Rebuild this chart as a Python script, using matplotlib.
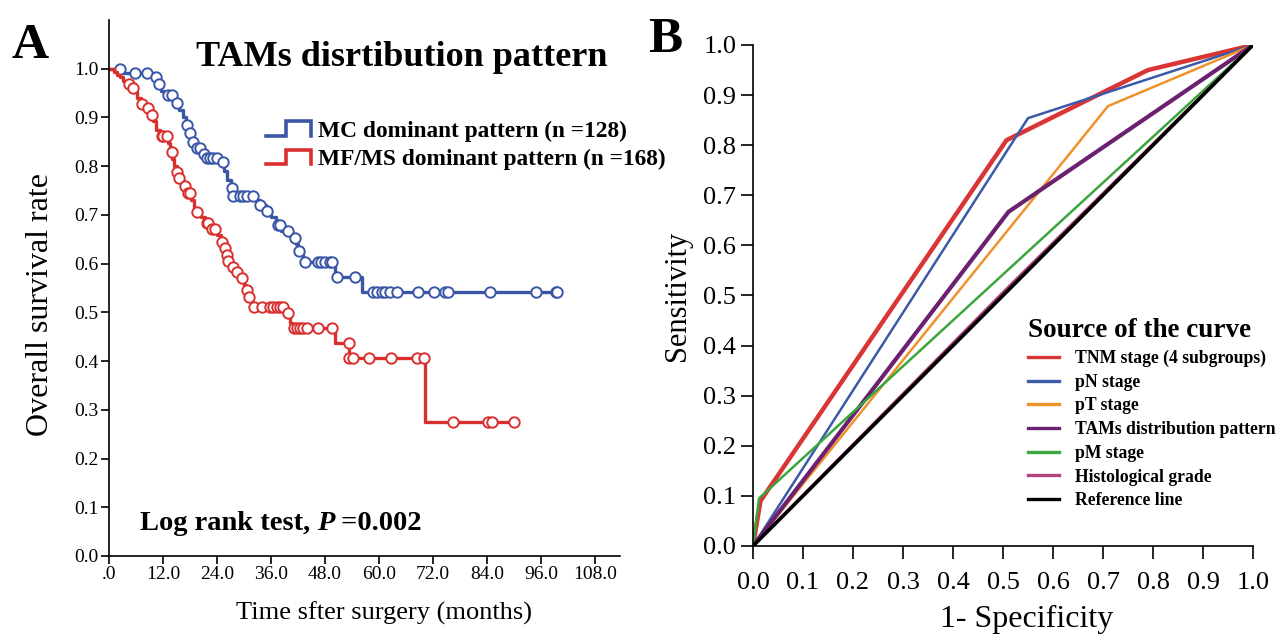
import numpy as np
import matplotlib
matplotlib.use('Agg')
import matplotlib.pyplot as plt
from matplotlib.legend_handler import HandlerBase
from matplotlib.lines import Line2D
from matplotlib.ticker import FormatStrFormatter

plt.rcParams['font.family'] = 'serif'
plt.rcParams['font.serif'] = ['Liberation Serif', 'DejaVu Serif']

# ---- Panel A : Kaplan-Meier ----
# step knots: time (months) where survival drops, survival after the drop
mc_times = [0, 3.0, 10.0, 10.8, 11.5, 12.3, 14.5, 15.5, 16.5, 17.0, 17.8, 18.5, 19.2,
            20.5, 21.2, 24.5, 25.5, 26.2, 27.0, 27.5, 32.5, 33.5, 34.8, 36.0, 37.0,
            38.2, 40.5, 41.5, 42.0, 43.2, 50.2, 56.1]
mc_surv = [1.0, 0.992, 0.984, 0.968, 0.955, 0.946, 0.93, 0.915, 0.90, 0.885, 0.868, 0.85,
           0.838, 0.825, 0.816, 0.808, 0.79, 0.772, 0.755, 0.738, 0.73, 0.72, 0.708,
           0.695, 0.68, 0.666, 0.652, 0.64, 0.625, 0.603, 0.573, 0.542]
mc_cens = [2.4, 5.8, 8.4, 10.5, 11.0, 13.2, 13.9, 15.0, 17.3, 18.0, 18.7, 19.5, 20.2,
           21.0, 21.7, 22.4, 23.1, 23.9, 25.4, 27.3, 27.6, 29.1, 29.8, 30.6, 32.0,
           33.6, 35.0, 37.6, 38.0, 39.8, 41.3, 42.1, 43.6, 46.4, 47.1, 48.0, 49.0,
           49.5, 50.6, 54.7, 58.7, 59.5, 60.6, 61.3, 62.4, 63.9, 68.7, 72.1, 74.7,
           75.4, 84.7, 94.9, 99.3, 99.6]

mf_times = [0, 1.0, 1.8, 2.5, 3.2, 4.0, 5.0, 5.5, 6.2, 7.0, 8.2, 9.2, 9.8, 10.5, 11.3,
            13.0, 13.5, 14.0, 14.5, 15.0, 15.5, 16.5, 17.3, 18.2, 18.8, 19.5, 20.5,
            21.3, 22.5, 24.0, 24.8, 25.3, 26.0, 26.5, 27.2, 28.0, 29.0, 30.0, 30.5,
            31.0, 31.6, 32.0, 39.5, 40.2, 40.6, 50.2, 53.3, 70.2]
mf_surv = [1.0, 0.994, 0.988, 0.982, 0.975, 0.969, 0.96, 0.953, 0.94, 0.928, 0.92,
           0.905, 0.892, 0.875, 0.862, 0.848, 0.83, 0.815, 0.80, 0.788, 0.775, 0.76,
           0.745, 0.73, 0.715, 0.705, 0.695, 0.683, 0.672, 0.658, 0.645, 0.632, 0.618,
           0.606, 0.594, 0.582, 0.57, 0.556, 0.545, 0.532, 0.52, 0.511, 0.498, 0.478,
           0.468, 0.437, 0.407, 0.274]
mf_cens = [4.5, 5.4, 7.3, 8.7, 9.5, 11.7, 12.1, 12.8, 13.9, 15.0, 15.6, 16.9, 17.6,
           18.0, 19.5, 21.7, 22.1, 22.8, 23.6, 25.0, 25.8, 26.1, 26.5, 27.6, 28.4,
           29.5, 30.6, 31.0, 32.1, 33.9, 35.8, 36.5, 37.3, 38.0, 38.7, 39.8, 41.0,
           41.7, 42.4, 43.1, 43.9, 46.5, 49.5, 53.2, 53.4, 54.1, 57.8, 62.6, 68.5,
           69.9, 76.4, 84.1, 85.1, 90.0]

month_ticks = np.arange(0, 109, 12)
month_labels = ['.0'] + ['%.1f' % m for m in month_ticks[1:]]

# ---- Panel B : ROC curves ----
roc_labels = ['TNM stage (4 subgroups)', 'pN stage', 'pT stage',
              'TAMs distribution pattern', 'pM stage', 'Histological grade',
              'Reference line']
roc_fpr = [[0, 0.015, 0.507, 0.79, 1], [0, 0.55, 1], [0, 0.71, 1],
           [0, 0.511, 1], [0, 0.012, 1], [0, 0.5, 1], [0, 1]]
roc_tpr = [[0, 0.09, 0.81, 0.95, 1], [0, 0.854, 1], [0, 0.878, 1],
           [0, 0.667, 1], [0, 0.095, 1], [0, 0.506, 1], [0, 1]]
roc_colors = ['#d93535', '#3d5aa8', '#f0922c', '#6b2170', '#3aa63c', '#b4437f', 'black']
roc_lw = [3.2, 1.8, 1.8, 3.0, 1.8, 2.2, 2.6]

BLUE = '#3a56a6'
RED = '#d9302f'


class StepHandler(HandlerBase):
    # KM-style step shape used as legend key
    def create_artists(self, legend, orig_handle, xdescent, ydescent,
                       width, height, fontsize, trans):
        x0, y0 = -xdescent, -ydescent
        xm = x0 + 0.45 * width
        ln = Line2D([x0, xm, xm, x0 + width, x0 + width],
                    [y0, y0, y0 + height, y0 + height, y0],
                    color=orig_handle.get_color(), lw=2.6,
                    solid_joinstyle='miter')
        ln.set_transform(trans)
        return [ln]


def km_curve(ax, times, surv, cens, color, label):
    times = np.asarray(times)
    surv = np.asarray(surv)
    t_end = max(cens[-1], times[-1])
    xs = np.append(times, t_end)
    ys = np.append(surv, surv[-1])
    line, = ax.step(xs, ys, where='post', color=color, lw=2.4, label=label)
    idx = np.searchsorted(times, cens, side='right') - 1
    ax.plot(cens, surv[idx], 'o', ls='none', mfc='white', mec=color,
            ms=7.5, mew=1.4)
    return line


W, H = 1278, 637
fig = plt.figure(figsize=(W / 100, H / 100), dpi=100)

# ---------- A ----------
ax1 = fig.add_axes([109 / W, (H - 556) / H, 511 / W, 536 / H])
l1 = km_curve(ax1, mc_times, mc_surv, mc_cens, BLUE, 'MC dominant pattern (n =128)')
l2 = km_curve(ax1, mf_times, mf_surv, mf_cens, RED, 'MF/MS dominant pattern (n =168)')
ax1.set_xlim(0, 113.5)
ax1.set_ylim(0, 1.1)
ax1.set_xticks(month_ticks)
ax1.set_xticklabels(month_labels)
ax1.set_yticks(np.arange(0, 1.01, 0.1))
ax1.yaxis.set_major_formatter(FormatStrFormatter('%.1f'))
for s in ['top', 'right']:
    ax1.spines[s].set_visible(False)
for s in ['left', 'bottom']:
    ax1.spines[s].set_linewidth(1.2)
ax1.tick_params(direction='out', length=6, width=1.2, labelsize=14, pad=1.5)
ax1.set_xlabel('Time sfter surgery (months)', fontsize=19, labelpad=8)
ax1.xaxis.set_label_coords((384 - 109) / 511, -0.085)
ax1.set_ylabel('Overall survival rate', fontsize=23)
ax1.yaxis.set_label_coords(-0.105, (556 - 305) / 536)
ax1.text(0.573, 0.914, 'TAMs disrtibution pattern', transform=ax1.transAxes,
         ha='center', va='baseline', fontsize=26, fontweight='bold')
ax1.legend(handles=[l1, l2], handler_map={Line2D: StepHandler()},
           loc='upper left', bbox_to_anchor=(0.307, 0.812), frameon=False,
           prop={'size': 16.8, 'weight': 'bold'}, handlelength=1.95,
           handleheight=0.6, handletextpad=0.3, labelspacing=0.3,
           borderpad=0, borderaxespad=0)

t1 = ax1.text(0.06, 0.037, 'Log rank test, ', transform=ax1.transAxes,
              fontsize=20.5, fontweight='bold', va='bottom')
t2 = ax1.annotate('P', xy=(1, 0), xycoords=t1, va='bottom', fontsize=20.5,
                  fontweight='bold', fontstyle='italic')
ax1.annotate(' =0.002', xy=(1, 0), xycoords=t2, va='bottom', fontsize=20.5,
             fontweight='bold')

# ---------- B ----------
ax2 = fig.add_axes([753 / W, (H - 546) / H, 500 / W, 501 / H])
for fpr, tpr, c, lw, lab in zip(roc_fpr, roc_tpr, roc_colors, roc_lw, roc_labels):
    ax2.plot(fpr, tpr, color=c, lw=lw, label=lab)
ax2.set_xlim(0, 1)
ax2.set_ylim(0, 1)
ax2.set_xticks(np.arange(0, 1.01, 0.1))
ax2.set_yticks(np.arange(0, 1.01, 0.1))
ax2.xaxis.set_major_formatter(FormatStrFormatter('%.1f'))
ax2.yaxis.set_major_formatter(FormatStrFormatter('%.1f'))
for s in ['top', 'right']:
    ax2.spines[s].set_visible(False)
for s in ['left', 'bottom']:
    ax2.spines[s].set_linewidth(1.2)
ax2.tick_params(direction='out', length=9, width=1.2, labelsize=19, pad=3)
ax2.tick_params(axis='x', pad=10)
ax2.set_xlabel('1- Specificity', fontsize=23)
ax2.xaxis.set_label_coords((1027 - 753) / 500, -0.118)
ax2.set_ylabel('Sensitivity', fontsize=22, labelpad=8)
leg = ax2.legend(loc='upper left', bbox_to_anchor=(0.55, 0.455), frameon=False,
                 title='Source of the curve', alignment='left',
                 title_fontproperties={'size': 19.5, 'weight': 'bold'},
                 prop={'size': 12.7, 'weight': 'bold'}, handlelength=1.75,
                 handletextpad=0.9, labelspacing=0.38, borderpad=0,
                 borderaxespad=0)
for ln in leg.get_lines():
    ln.set_linewidth(2.4)

fig.text(12 / W, 1 - 58 / H, 'A', fontsize=37, fontweight='bold', va='baseline')
fig.text(648 / W, 1 - 52 / H, 'B', fontsize=37, fontweight='bold', va='baseline')

fig.savefig('out.png', dpi=100)
